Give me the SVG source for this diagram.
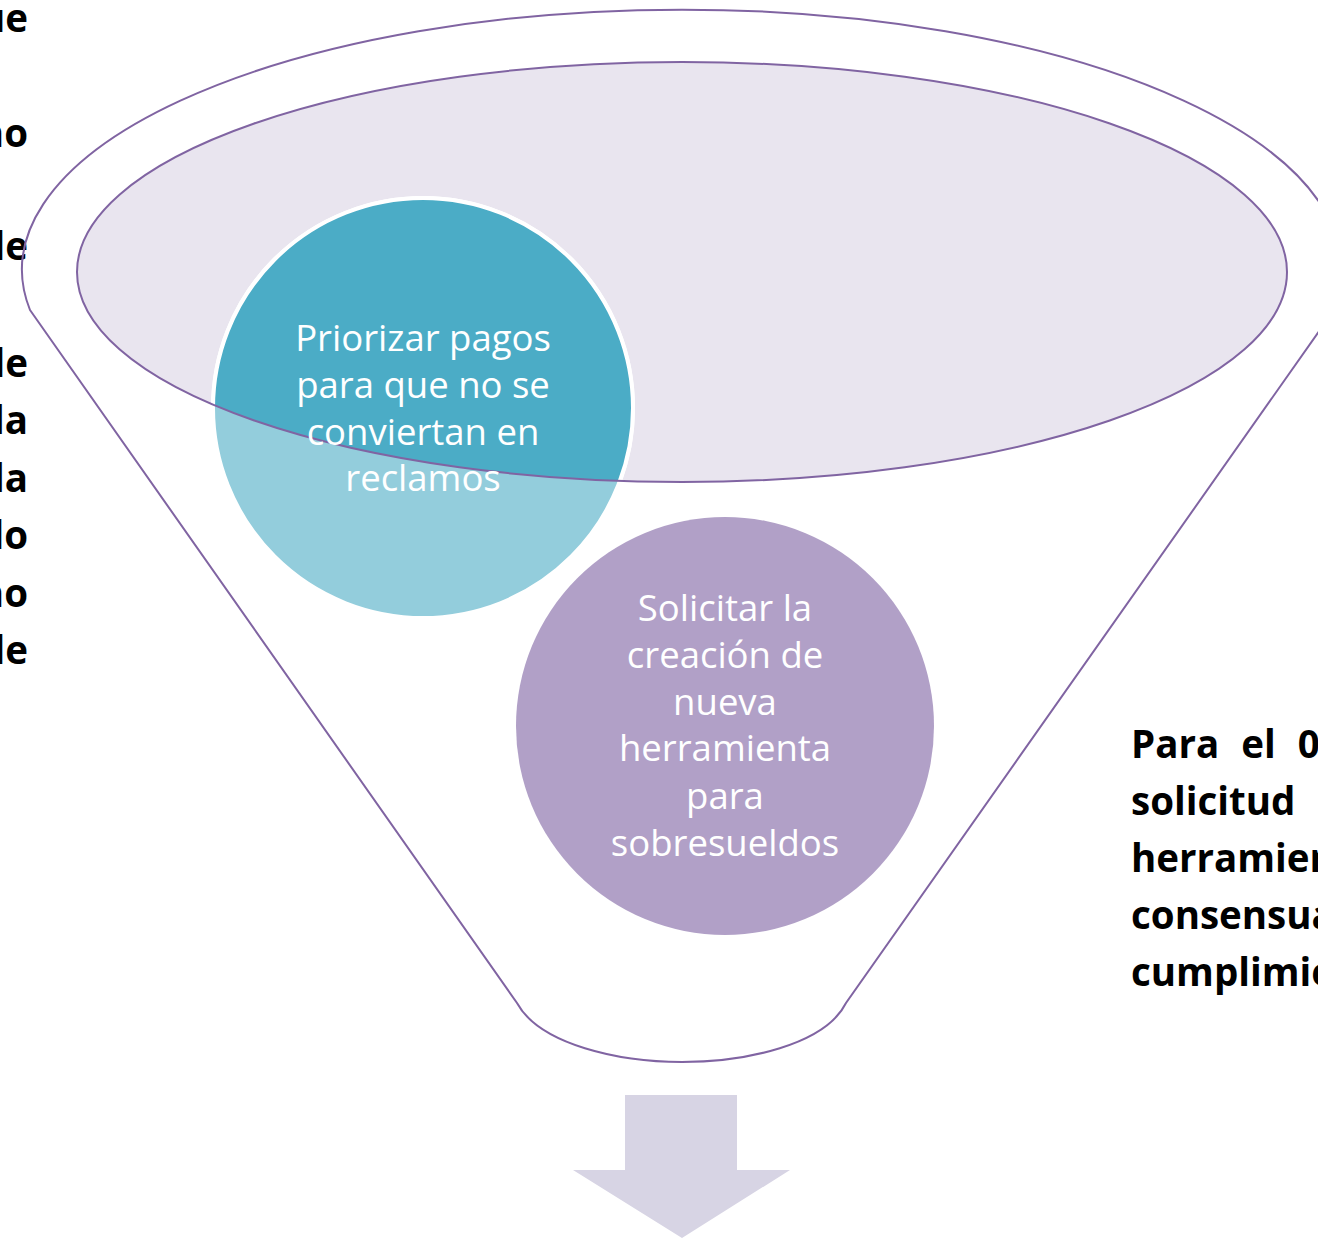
<svg xmlns="http://www.w3.org/2000/svg" width="1318" height="1241" viewBox="0 0 1318 1241">
<style>
.outline{fill:none;stroke:#8064A2;stroke-width:2}
.ctext{font-family:"Open Sans","Noto Sans",sans-serif;font-size:36.5px;fill:#FFFFFF;text-anchor:middle}
.btext{font-family:"Open Sans","Liberation Sans",sans-serif;font-size:38.5px;font-weight:bold;fill:#000000}
</style>
<defs>
<clipPath id="ellClip"><ellipse cx="682" cy="272" rx="605" ry="210"/></clipPath>
</defs>
<rect width="1318" height="1241" fill="#FFFFFF"/>
<g id="left-text" class="btext" text-anchor="end">
<text x="28" y="32">ue</text>
<text x="28" y="147">no</text>
<text x="28" y="260">le</text>
<text x="28" y="377">le</text>
<text x="28" y="434">la</text>
<text x="28" y="492">la</text>
<text x="28" y="549">lo</text>
<text x="28" y="607">no</text>
<text x="28" y="664">le</text>
</g>
<g id="funnel">
<path class="outline" d="M 30 310 L 517 1003 C 540 1045 620 1062 682 1062 C 745 1062 825 1045 846 1003 L 1334 310 A 660 260 0 1 0 30 310 Z"/>
<ellipse cx="682" cy="272" rx="605" ry="210" fill="#E9E5EF"/>
</g>
<g id="node-priorizar">
<circle cx="423" cy="408" r="210" fill="#93CDDC" stroke="#FFFFFF" stroke-width="4"/>
<g clip-path="url(#ellClip)">
<circle cx="423" cy="408" r="210" fill="#4BACC6" stroke="#FFFFFF" stroke-width="4"/>
</g>
</g>
<ellipse id="funnel-rim" class="outline" cx="682" cy="272" rx="605" ry="210"/>
<g id="node-priorizar-label" class="ctext">
<text x="423" y="351">Priorizar pagos</text>
<text x="423" y="398">para que no se</text>
<text x="423" y="445">conviertan en</text>
<text x="423" y="491">reclamos</text>
</g>
<g id="node-solicitar">
<circle cx="725" cy="726" r="209" fill="#B1A0C7"/>
<g class="ctext">
<text x="725" y="621">Solicitar la</text>
<text x="725" y="668">creación de</text>
<text x="725" y="715">nueva</text>
<text x="725" y="761">herramienta</text>
<text x="725" y="809">para</text>
<text x="725" y="856">sobresueldos</text>
</g>
</g>
<g id="connectors">
<polygon points="625,1095 737,1095 737,1170 790,1170 682,1238 573,1170 625,1170" fill="#D7D4E4"/>
</g>
<g id="right-text" class="btext">
<text x="1131" y="758" word-spacing="12">Para el 0</text>
<text x="1131" y="815">solicitud</text>
<text x="1131" y="872">herramien</text>
<text x="1131" y="929">consensua</text>
<text x="1131" y="986">cumplimie</text>
</g>
</svg>
